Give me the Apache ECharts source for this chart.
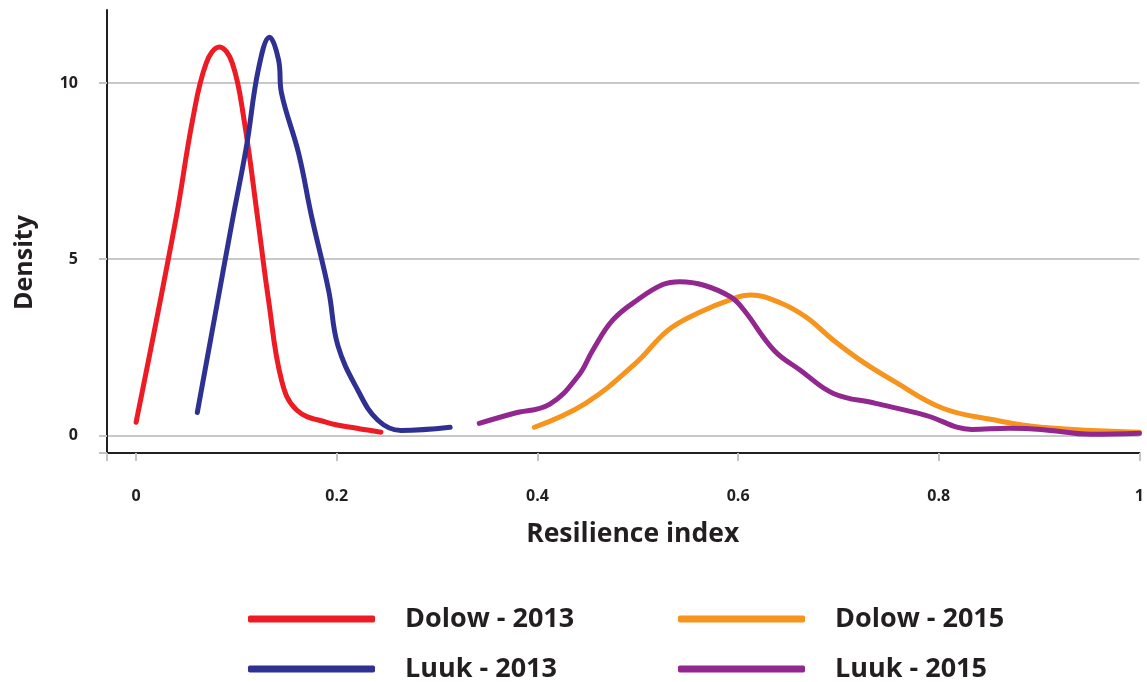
<!DOCTYPE html>
<html>
<head>
<meta charset="utf-8">
<title>Resilience index density</title>
<script src="https://cdn.jsdelivr.net/npm/echarts@6/dist/echarts.min.js"></script>
<style>
  html, body { margin: 0; padding: 0; background: #fff; }
  #chart { width: 1147px; height: 682px; }
</style>
</head>
<body>
<div id="chart"></div>
<script>
// density curves
var dolow2013X = [0, 0.0395, 0.0563, 0.070, 0.083, 0.0958, 0.1076, 0.1214, 0.132, 0.145, 0.16, 0.19, 0.22, 0.244];
var dolow2013Y = [0.37, 6.11, 8.95, 10.57, 11.02, 10.57, 8.95, 6.11, 3.84, 1.56, 0.72, 0.37, 0.2, 0.09];

var luuk2013X = [0.061, 0.078, 0.096, 0.110, 0.122, 0.133, 0.142, 0.145, 0.162, 0.175, 0.192, 0.201, 0.221, 0.241, 0.264, 0.313];
var luuk2013Y = [0.65, 3.3, 6.1, 8.2, 10.4, 11.3, 10.65, 9.7, 8.0, 6.2, 4.1, 2.56, 1.28, 0.43, 0.14, 0.23];

var dolow2015X = [0.397, 0.448, 0.498, 0.530, 0.560, 0.596, 0.613, 0.643, 0.668, 0.695, 0.725, 0.754, 0.804, 0.853, 0.902, 1.0];
var dolow2015Y = [0.23, 0.91, 2.05, 2.98, 3.47, 3.89, 3.98, 3.75, 3.35, 2.7, 2.07, 1.56, 0.77, 0.45, 0.23, 0.09];

var luuk2015X = [0.342, 0.376, 0.412, 0.441, 0.455, 0.475, 0.500, 0.525, 0.542, 0.566, 0.593, 0.606, 0.636, 0.662, 0.695, 0.737, 0.787, 0.833, 0.870, 0.902, 0.952, 1.0];
var luuk2015Y = [0.34, 0.62, 0.88, 1.7, 2.41, 3.27, 3.85, 4.28, 4.36, 4.26, 3.92, 3.55, 2.41, 1.85, 1.19, 0.91, 0.57, 0.17, 0.2, 0.17, 0.03, 0.06];

var xTickLabels = [0, 0.2, 0.4, 0.6, 0.8, 1];
var yTickLabels = [0, 5, 10];

function pairs(xs, ys) {
  var out = [];
  for (var i = 0; i < xs.length; i++) out.push([xs[i], ys[i]]);
  return out;
}

var textColor = '#231f20';
var fontFamily = '"Open Sans", Roboto, sans-serif';

var chart = echarts.init(document.getElementById('chart'));

function legendAt(name, left, top) {
  return {
    data: [name],
    left: left,
    top: top,
    padding: 0,
    icon: 'roundRect',
    itemWidth: 127,
    itemHeight: 7,
    selectedMode: false,
    textStyle: {
      color: textColor,
      fontFamily: fontFamily,
      fontWeight: 'bold',
      fontSize: 27,
      lineHeight: 34,
      padding: [0, 0, 0, 25]
    }
  };
}

function lineSeries(name, color, xs, ys) {
  return {
    name: name,
    type: 'line',
    smooth: 0.4,
    symbol: 'none',
    lineStyle: { color: color, width: 5, cap: 'round' },
    itemStyle: { color: color },
    data: pairs(xs, ys)
  };
}

chart.setOption({
  backgroundColor: '#fff',
  animation: false,
  grid: { left: 107, right: 0, top: 10, bottom: 229 },
  legend: [
    legendAt('Dolow - 2013', 248, 602),
    legendAt('Dolow - 2015', 678, 602),
    legendAt('Luuk - 2013', 248, 652),
    legendAt('Luuk - 2015', 678, 652)
  ],
  xAxis: {
    type: 'value',
    min: -0.029,
    max: 1.0,
    name: 'Resilience index',
    nameLocation: 'middle',
    nameGap: 68,
    nameTextStyle: { color: textColor, fontFamily: fontFamily, fontWeight: 'bold', fontSize: 26.5, padding: [0, 0, 0, 19] },
    axisLine: { onZero: false, lineStyle: { color: textColor, width: 2 } },
    axisTick: { show: true, length: 8, lineStyle: { color: '#c4c4c4', width: 2 }, customValues: [-0.029].concat(xTickLabels) },
    axisLabel: {
      customValues: xTickLabels,
      margin: 35,
      color: textColor,
      fontFamily: fontFamily,
      fontWeight: 'bold',
      fontSize: 16
    },
    splitLine: { show: false }
  },
  yAxis: {
    type: 'value',
    min: -0.5,
    max: 12.07,
    name: 'Density',
    nameLocation: 'middle',
    nameGap: 70,
    nameTextStyle: { color: textColor, fontFamily: fontFamily, fontWeight: 'bold', fontSize: 25, padding: [0, 62, 0, 0] },
    axisLine: { show: true, onZero: false, lineStyle: { color: textColor, width: 2 } },
    axisTick: { show: true, length: 8, lineStyle: { color: '#c4c4c4', width: 2 }, customValues: [-0.5].concat(yTickLabels) },
    axisLabel: {
      customValues: yTickLabels,
      margin: 29,
      color: textColor,
      fontFamily: fontFamily,
      fontWeight: 'bold',
      fontSize: 16
    },
    splitLine: { show: true, lineStyle: { color: '#c8c8c8', width: 2 } }
  },
  series: [
    lineSeries('Dolow - 2013', '#ed1c24', dolow2013X, dolow2013Y),
    lineSeries('Luuk - 2013', '#2e3192', luuk2013X, luuk2013Y),
    lineSeries('Dolow - 2015', '#f7941d', dolow2015X, dolow2015Y),
    lineSeries('Luuk - 2015', '#92278f', luuk2015X, luuk2015Y)
  ]
});
</script>
</body>
</html>
